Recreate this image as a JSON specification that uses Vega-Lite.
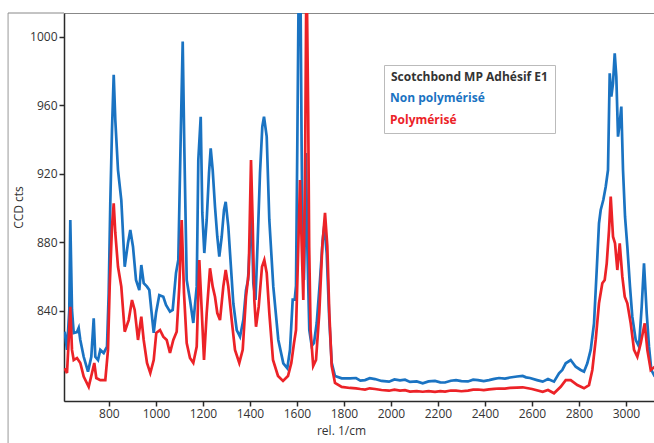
{
  "$schema": "https://vega.github.io/schema/vega-lite/v6.json",
  "width": 591,
  "height": 388,
  "autosize": {"type": "none"},
  "padding": {"left": 64, "top": 13, "right": 0, "bottom": 42},
  "background": "white",
  "view": {"stroke": "#888", "strokeWidth": 1},
  "config": {
    "font": "Open Sans",
    "axis": {
      "grid": false,
      "domainColor": "#2a2a2a",
      "domainWidth": 1.5,
      "tickColor": "#2a2a2a",
      "tickWidth": 1.5,
      "tickSize": 5,
      "labelFont": "Open Sans",
      "labelFontSize": 12,
      "labelColor": "#333333",
      "labelPadding": 2,
      "titleFont": "Open Sans",
      "titleFontSize": 12,
      "titleFontWeight": "normal",
      "titleColor": "#333333"
    }
  },
  "layer": [
    {
      "data": {"values": [{"a": 1}]},
      "mark": {"type": "rule", "clip": false, "color": "#999999", "strokeWidth": 1},
      "encoding": {
        "x": {"datum": 371, "type": "quantitative", "scale": {"domain": [609, 3123.7], "nice": false, "zero": false}},
        "y": {"datum": 1013.8, "type": "quantitative", "scale": {"domain": [787.5, 1013.8], "nice": false, "zero": false}},
        "y2": {"datum": 763}
      }
    },
    {
      "data": {"values": [{"a": 1}]},
      "mark": {"type": "rule", "clip": false, "color": "#888888", "strokeWidth": 1},
      "encoding": {
        "x": {"datum": 371, "type": "quantitative", "scale": {"domain": [609, 3123.7], "nice": false, "zero": false}},
        "x2": {"datum": 609},
        "y": {"datum": 1013.8, "type": "quantitative", "scale": {"domain": [787.5, 1013.8], "nice": false, "zero": false}}
      }
    },
    {
      "data": {
        "values": [
          {"x": 612, "y": 827.9, "s": "Non polymérisé"},
          {"x": 621.8, "y": 817.3, "s": "Non polymérisé"},
          {"x": 631.6, "y": 840.6, "s": "Non polymérisé"},
          {"x": 635.8, "y": 893.1, "s": "Non polymérisé"},
          {"x": 643, "y": 840.6, "s": "Non polymérisé"},
          {"x": 650.3, "y": 827.2, "s": "Non polymérisé"},
          {"x": 664.3, "y": 827.7, "s": "Non polymérisé"},
          {"x": 671.5, "y": 830.1, "s": "Non polymérisé"},
          {"x": 678.4, "y": 823.1, "s": "Non polymérisé"},
          {"x": 692.8, "y": 813.3, "s": "Non polymérisé"},
          {"x": 711.1, "y": 804.6, "s": "Non polymérisé"},
          {"x": 725.2, "y": 813.3, "s": "Non polymérisé"},
          {"x": 735.4, "y": 835.7, "s": "Non polymérisé"},
          {"x": 742.2, "y": 813.3, "s": "Non polymérisé"},
          {"x": 753.7, "y": 811.4, "s": "Non polymérisé"},
          {"x": 763.5, "y": 817.3, "s": "Non polymérisé"},
          {"x": 777.9, "y": 815.5, "s": "Non polymérisé"},
          {"x": 792, "y": 819.2, "s": "Non polymérisé"},
          {"x": 799.2, "y": 850.5, "s": "Non polymérisé"},
          {"x": 806, "y": 903, "s": "Non polymérisé"},
          {"x": 813.2, "y": 945.6, "s": "Non polymérisé"},
          {"x": 820.5, "y": 977.7, "s": "Non polymérisé"},
          {"x": 827.3, "y": 951.4, "s": "Non polymérisé"},
          {"x": 838.8, "y": 922.2, "s": "Non polymérisé"},
          {"x": 852.8, "y": 904.7, "s": "Non polymérisé"},
          {"x": 867.3, "y": 865.8, "s": "Non polymérisé"},
          {"x": 881.3, "y": 879.7, "s": "Non polymérisé"},
          {"x": 891.1, "y": 887.2, "s": "Non polymérisé"},
          {"x": 902.6, "y": 877.5, "s": "Non polymérisé"},
          {"x": 915.4, "y": 858.1, "s": "Non polymérisé"},
          {"x": 929.4, "y": 852.2, "s": "Non polymérisé"},
          {"x": 937.9, "y": 866.8, "s": "Non polymérisé"},
          {"x": 948.1, "y": 856.3, "s": "Non polymérisé"},
          {"x": 962.2, "y": 854.2, "s": "Non polymérisé"},
          {"x": 972, "y": 852.2, "s": "Non polymérisé"},
          {"x": 980.5, "y": 840.6, "s": "Non polymérisé"},
          {"x": 990.7, "y": 827.2, "s": "Non polymérisé"},
          {"x": 1000.5, "y": 838.8, "s": "Non polymérisé"},
          {"x": 1014.5, "y": 849.3, "s": "Non polymérisé"},
          {"x": 1031.5, "y": 848.3, "s": "Non polymérisé"},
          {"x": 1043, "y": 843.5, "s": "Non polymérisé"},
          {"x": 1060, "y": 839.6, "s": "Non polymérisé"},
          {"x": 1071.5, "y": 840.6, "s": "Non polymérisé"},
          {"x": 1085.6, "y": 862.2, "s": "Non polymérisé"},
          {"x": 1095.4, "y": 869.7, "s": "Non polymérisé"},
          {"x": 1105.6, "y": 941.7, "s": "Non polymérisé"},
          {"x": 1114.1, "y": 997.1, "s": "Non polymérisé"},
          {"x": 1120.9, "y": 935.8, "s": "Non polymérisé"},
          {"x": 1131.1, "y": 858.1, "s": "Non polymérisé"},
          {"x": 1145.1, "y": 846.4, "s": "Non polymérisé"},
          {"x": 1159.2, "y": 833, "s": "Non polymérisé"},
          {"x": 1173.7, "y": 854.2, "s": "Non polymérisé"},
          {"x": 1180.5, "y": 928.1, "s": "Non polymérisé"},
          {"x": 1190.7, "y": 953.3, "s": "Non polymérisé"},
          {"x": 1197.5, "y": 897.2, "s": "Non polymérisé"},
          {"x": 1206, "y": 873.8, "s": "Non polymérisé"},
          {"x": 1216.2, "y": 893.1, "s": "Non polymérisé"},
          {"x": 1226, "y": 920.5, "s": "Non polymérisé"},
          {"x": 1233.2, "y": 934.9, "s": "Non polymérisé"},
          {"x": 1241.7, "y": 922.2, "s": "Non polymérisé"},
          {"x": 1251.5, "y": 900.8, "s": "Non polymérisé"},
          {"x": 1261.3, "y": 883.3, "s": "Non polymérisé"},
          {"x": 1269.8, "y": 871.7, "s": "Non polymérisé"},
          {"x": 1280, "y": 883.3, "s": "Non polymérisé"},
          {"x": 1289.8, "y": 898.9, "s": "Non polymérisé"},
          {"x": 1297, "y": 903.7, "s": "Non polymérisé"},
          {"x": 1308.1, "y": 889.2, "s": "Non polymérisé"},
          {"x": 1318.3, "y": 867.8, "s": "Non polymérisé"},
          {"x": 1329.4, "y": 844.5, "s": "Non polymérisé"},
          {"x": 1343.9, "y": 828.9, "s": "Non polymérisé"},
          {"x": 1357.9, "y": 825, "s": "Non polymérisé"},
          {"x": 1372, "y": 834.7, "s": "Non polymérisé"},
          {"x": 1383.4, "y": 852.2, "s": "Non polymérisé"},
          {"x": 1392, "y": 858.1, "s": "Non polymérisé"},
          {"x": 1400.4, "y": 881.4, "s": "Non polymérisé"},
          {"x": 1407.7, "y": 895, "s": "Non polymérisé"},
          {"x": 1414.5, "y": 856.3, "s": "Non polymérisé"},
          {"x": 1423.9, "y": 846.4, "s": "Non polymérisé"},
          {"x": 1433.2, "y": 881.4, "s": "Non polymérisé"},
          {"x": 1443, "y": 920.5, "s": "Non polymérisé"},
          {"x": 1452.8, "y": 947.5, "s": "Non polymérisé"},
          {"x": 1460, "y": 953.3, "s": "Non polymérisé"},
          {"x": 1471.5, "y": 941.7, "s": "Non polymérisé"},
          {"x": 1482.6, "y": 893.1, "s": "Non polymérisé"},
          {"x": 1499.6, "y": 854.2, "s": "Non polymérisé"},
          {"x": 1520.9, "y": 823.1, "s": "Non polymérisé"},
          {"x": 1542.2, "y": 809.5, "s": "Non polymérisé"},
          {"x": 1559.2, "y": 806.6, "s": "Non polymérisé"},
          {"x": 1570.6, "y": 817.4, "s": "Non polymérisé"},
          {"x": 1582.1, "y": 846.6, "s": "Non polymérisé"},
          {"x": 1590.7, "y": 846.6, "s": "Non polymérisé"},
          {"x": 1596.2, "y": 854.6, "s": "Non polymérisé"},
          {"x": 1601.7, "y": 936.2, "s": "Non polymérisé"},
          {"x": 1608.5, "y": 1045, "s": "Non polymérisé"},
          {"x": 1614.5, "y": 1040, "s": "Non polymérisé"},
          {"x": 1620.1, "y": 936.2, "s": "Non polymérisé"},
          {"x": 1624.4, "y": 877.9, "s": "Non polymérisé"},
          {"x": 1630, "y": 858.1, "s": "Non polymérisé"},
          {"x": 1634.5, "y": 889.6, "s": "Non polymérisé"},
          {"x": 1638.7, "y": 932.2, "s": "Non polymérisé"},
          {"x": 1644.3, "y": 877.9, "s": "Non polymérisé"},
          {"x": 1652.8, "y": 828.9, "s": "Non polymérisé"},
          {"x": 1663, "y": 819.6, "s": "Non polymérisé"},
          {"x": 1672.8, "y": 821.3, "s": "Non polymérisé"},
          {"x": 1684.3, "y": 833, "s": "Non polymérisé"},
          {"x": 1698.3, "y": 858.1, "s": "Non polymérisé"},
          {"x": 1709.8, "y": 881.4, "s": "Non polymérisé"},
          {"x": 1716.6, "y": 889.6, "s": "Non polymérisé"},
          {"x": 1726.8, "y": 873.8, "s": "Non polymérisé"},
          {"x": 1737.9, "y": 834.7, "s": "Non polymérisé"},
          {"x": 1748.1, "y": 809.7, "s": "Non polymérisé"},
          {"x": 1762.1, "y": 802.1, "s": "Non polymérisé"},
          {"x": 1790.6, "y": 800.7, "s": "Non polymérisé"},
          {"x": 1826, "y": 800.7, "s": "Non polymérisé"},
          {"x": 1851.5, "y": 800.9, "s": "Non polymérisé"},
          {"x": 1870, "y": 799.4, "s": "Non polymérisé"},
          {"x": 1889.8, "y": 799.7, "s": "Non polymérisé"},
          {"x": 1910, "y": 800.8, "s": "Non polymérisé"},
          {"x": 1932.3, "y": 800.3, "s": "Non polymérisé"},
          {"x": 1960, "y": 799.2, "s": "Non polymérisé"},
          {"x": 1992, "y": 798.8, "s": "Non polymérisé"},
          {"x": 2015, "y": 800.1, "s": "Non polymérisé"},
          {"x": 2038.7, "y": 799.5, "s": "Non polymérisé"},
          {"x": 2060, "y": 799.9, "s": "Non polymérisé"},
          {"x": 2081.2, "y": 798.6, "s": "Non polymérisé"},
          {"x": 2110, "y": 798.9, "s": "Non polymérisé"},
          {"x": 2135.3, "y": 797.8, "s": "Non polymérisé"},
          {"x": 2160, "y": 798.9, "s": "Non polymérisé"},
          {"x": 2187.6, "y": 799.2, "s": "Non polymérisé"},
          {"x": 2210, "y": 798.4, "s": "Non polymérisé"},
          {"x": 2230.2, "y": 798.3, "s": "Non polymérisé"},
          {"x": 2255, "y": 799.3, "s": "Non polymérisé"},
          {"x": 2276.9, "y": 799.7, "s": "Non polymérisé"},
          {"x": 2300, "y": 799.1, "s": "Non polymérisé"},
          {"x": 2328, "y": 798.9, "s": "Non polymérisé"},
          {"x": 2350, "y": 799.9, "s": "Non polymérisé"},
          {"x": 2370.6, "y": 799.7, "s": "Non polymérisé"},
          {"x": 2395, "y": 799.1, "s": "Non polymérisé"},
          {"x": 2417.4, "y": 799.7, "s": "Non polymérisé"},
          {"x": 2440, "y": 800.4, "s": "Non polymérisé"},
          {"x": 2460, "y": 800.9, "s": "Non polymérisé"},
          {"x": 2485, "y": 800.6, "s": "Non polymérisé"},
          {"x": 2506.7, "y": 801.2, "s": "Non polymérisé"},
          {"x": 2536.5, "y": 801.8, "s": "Non polymérisé"},
          {"x": 2560.7, "y": 802.1, "s": "Non polymérisé"},
          {"x": 2575, "y": 801.3, "s": "Non polymérisé"},
          {"x": 2591.8, "y": 800.9, "s": "Non polymérisé"},
          {"x": 2621.6, "y": 799.7, "s": "Non polymérisé"},
          {"x": 2645.9, "y": 798.8, "s": "Non polymérisé"},
          {"x": 2668.4, "y": 800.3, "s": "Non polymérisé"},
          {"x": 2693.9, "y": 798.8, "s": "Non polymérisé"},
          {"x": 2715.2, "y": 803.7, "s": "Non polymérisé"},
          {"x": 2729.3, "y": 805.6, "s": "Non polymérisé"},
          {"x": 2743.8, "y": 809.5, "s": "Non polymérisé"},
          {"x": 2765, "y": 811.4, "s": "Non polymérisé"},
          {"x": 2786.3, "y": 807.5, "s": "Non polymérisé"},
          {"x": 2807.6, "y": 805.6, "s": "Non polymérisé"},
          {"x": 2821.6, "y": 804.6, "s": "Non polymérisé"},
          {"x": 2835.7, "y": 809.5, "s": "Non polymérisé"},
          {"x": 2850.1, "y": 817.3, "s": "Non polymérisé"},
          {"x": 2864.2, "y": 832.8, "s": "Non polymérisé"},
          {"x": 2875.7, "y": 863.9, "s": "Non polymérisé"},
          {"x": 2885.4, "y": 891.2, "s": "Non polymérisé"},
          {"x": 2892.7, "y": 898.9, "s": "Non polymérisé"},
          {"x": 2903.7, "y": 904.7, "s": "Non polymérisé"},
          {"x": 2914, "y": 912.5, "s": "Non polymérisé"},
          {"x": 2923.7, "y": 922.2, "s": "Non polymérisé"},
          {"x": 2931, "y": 978.6, "s": "Non polymérisé"},
          {"x": 2937.9, "y": 965, "s": "Non polymérisé"},
          {"x": 2945, "y": 972.8, "s": "Non polymérisé"},
          {"x": 2952.3, "y": 990.3, "s": "Non polymérisé"},
          {"x": 2959.1, "y": 976.7, "s": "Non polymérisé"},
          {"x": 2966.3, "y": 941.7, "s": "Non polymérisé"},
          {"x": 2973.6, "y": 949.5, "s": "Non polymérisé"},
          {"x": 2980.4, "y": 959.2, "s": "Non polymérisé"},
          {"x": 2987.6, "y": 922.2, "s": "Non polymérisé"},
          {"x": 2996.2, "y": 895, "s": "Non polymérisé"},
          {"x": 3006, "y": 877.5, "s": "Non polymérisé"},
          {"x": 3017.3, "y": 854.2, "s": "Non polymérisé"},
          {"x": 3027.1, "y": 836.7, "s": "Non polymérisé"},
          {"x": 3041.6, "y": 823.1, "s": "Non polymérisé"},
          {"x": 3055.6, "y": 819.2, "s": "Non polymérisé"},
          {"x": 3067.1, "y": 842.5, "s": "Non polymérisé"},
          {"x": 3076.9, "y": 867.8, "s": "Non polymérisé"},
          {"x": 3088.4, "y": 838.7, "s": "Non polymérisé"},
          {"x": 3098.2, "y": 819.2, "s": "Non polymérisé"},
          {"x": 3108, "y": 805.6, "s": "Non polymérisé"},
          {"x": 3123, "y": 801.7, "s": "Non polymérisé"},

          {"x": 612, "y": 806.6, "s": "Polymérisé"},
          {"x": 621.8, "y": 803.8, "s": "Polymérisé"},
          {"x": 629, "y": 823.1, "s": "Polymérisé"},
          {"x": 635.8, "y": 842.5, "s": "Polymérisé"},
          {"x": 643, "y": 817.3, "s": "Polymérisé"},
          {"x": 650.3, "y": 811.4, "s": "Polymérisé"},
          {"x": 664.3, "y": 812.6, "s": "Polymérisé"},
          {"x": 678.4, "y": 809.7, "s": "Polymérisé"},
          {"x": 692.8, "y": 801.7, "s": "Polymérisé"},
          {"x": 714.1, "y": 795.8, "s": "Polymérisé"},
          {"x": 728.1, "y": 803.8, "s": "Polymérisé"},
          {"x": 737.9, "y": 809.7, "s": "Polymérisé"},
          {"x": 746.4, "y": 800.9, "s": "Polymérisé"},
          {"x": 763.5, "y": 799.7, "s": "Polymérisé"},
          {"x": 784.7, "y": 799.7, "s": "Polymérisé"},
          {"x": 796.2, "y": 817.3, "s": "Polymérisé"},
          {"x": 803.4, "y": 854.2, "s": "Polymérisé"},
          {"x": 813.2, "y": 889.2, "s": "Polymérisé"},
          {"x": 820.5, "y": 902.8, "s": "Polymérisé"},
          {"x": 827.3, "y": 885.5, "s": "Polymérisé"},
          {"x": 838.8, "y": 865.8, "s": "Polymérisé"},
          {"x": 852.8, "y": 854.2, "s": "Polymérisé"},
          {"x": 867.3, "y": 827.9, "s": "Polymérisé"},
          {"x": 884.3, "y": 834.7, "s": "Polymérisé"},
          {"x": 898.3, "y": 846.4, "s": "Polymérisé"},
          {"x": 909.8, "y": 840.6, "s": "Polymérisé"},
          {"x": 923.9, "y": 823.1, "s": "Polymérisé"},
          {"x": 937.9, "y": 836.7, "s": "Polymérisé"},
          {"x": 948.1, "y": 823.1, "s": "Polymérisé"},
          {"x": 962.2, "y": 809.7, "s": "Polymérisé"},
          {"x": 976.2, "y": 803.8, "s": "Polymérisé"},
          {"x": 990.7, "y": 811.4, "s": "Polymérisé"},
          {"x": 1001.7, "y": 827.2, "s": "Polymérisé"},
          {"x": 1017.5, "y": 828.9, "s": "Polymérisé"},
          {"x": 1031.5, "y": 825, "s": "Polymérisé"},
          {"x": 1046, "y": 823.1, "s": "Polymérisé"},
          {"x": 1060, "y": 815.5, "s": "Polymérisé"},
          {"x": 1074.1, "y": 823.1, "s": "Polymérisé"},
          {"x": 1088.5, "y": 827.9, "s": "Polymérisé"},
          {"x": 1099.6, "y": 854.2, "s": "Polymérisé"},
          {"x": 1109.8, "y": 893.1, "s": "Polymérisé"},
          {"x": 1119.6, "y": 850.5, "s": "Polymérisé"},
          {"x": 1131.1, "y": 821.3, "s": "Polymérisé"},
          {"x": 1145.1, "y": 812.6, "s": "Polymérisé"},
          {"x": 1159.2, "y": 809.7, "s": "Polymérisé"},
          {"x": 1173.7, "y": 819.2, "s": "Polymérisé"},
          {"x": 1184.7, "y": 869.7, "s": "Polymérisé"},
          {"x": 1194.9, "y": 840.6, "s": "Polymérisé"},
          {"x": 1204.7, "y": 811.4, "s": "Polymérisé"},
          {"x": 1216.2, "y": 838.8, "s": "Polymérisé"},
          {"x": 1230.2, "y": 864.9, "s": "Polymérisé"},
          {"x": 1241.7, "y": 854.2, "s": "Polymérisé"},
          {"x": 1251.5, "y": 848.3, "s": "Polymérisé"},
          {"x": 1261.3, "y": 838.8, "s": "Polymérisé"},
          {"x": 1272.8, "y": 834.7, "s": "Polymérisé"},
          {"x": 1286.8, "y": 854.2, "s": "Polymérisé"},
          {"x": 1297, "y": 863.9, "s": "Polymérisé"},
          {"x": 1308.1, "y": 854.2, "s": "Polymérisé"},
          {"x": 1322.6, "y": 834.7, "s": "Polymérisé"},
          {"x": 1336.6, "y": 817.3, "s": "Polymérisé"},
          {"x": 1354.9, "y": 809.7, "s": "Polymérisé"},
          {"x": 1369.4, "y": 817.3, "s": "Polymérisé"},
          {"x": 1383.4, "y": 848.3, "s": "Polymérisé"},
          {"x": 1394.9, "y": 862.2, "s": "Polymérisé"},
          {"x": 1404.7, "y": 928.1, "s": "Polymérisé"},
          {"x": 1411.9, "y": 891.3, "s": "Polymérisé"},
          {"x": 1418.8, "y": 846.4, "s": "Polymérisé"},
          {"x": 1426, "y": 830.8, "s": "Polymérisé"},
          {"x": 1437.5, "y": 842.5, "s": "Polymérisé"},
          {"x": 1451.5, "y": 865.8, "s": "Polymérisé"},
          {"x": 1461.3, "y": 869.7, "s": "Polymérisé"},
          {"x": 1471.5, "y": 862.2, "s": "Polymérisé"},
          {"x": 1482.6, "y": 838.8, "s": "Polymérisé"},
          {"x": 1498.3, "y": 811.4, "s": "Polymérisé"},
          {"x": 1519.6, "y": 802.1, "s": "Polymérisé"},
          {"x": 1540.9, "y": 799.2, "s": "Polymérisé"},
          {"x": 1562.1, "y": 802.1, "s": "Polymérisé"},
          {"x": 1576.2, "y": 809.7, "s": "Polymérisé"},
          {"x": 1587.7, "y": 821.3, "s": "Polymérisé"},
          {"x": 1596.2, "y": 828.9, "s": "Polymérisé"},
          {"x": 1606, "y": 877.9, "s": "Polymérisé"},
          {"x": 1613.2, "y": 916.4, "s": "Polymérisé"},
          {"x": 1620.4, "y": 877.9, "s": "Polymérisé"},
          {"x": 1627.2, "y": 846.4, "s": "Polymérisé"},
          {"x": 1634.5, "y": 916.4, "s": "Polymérisé"},
          {"x": 1640.8, "y": 1045, "s": "Polymérisé"},
          {"x": 1648, "y": 955.5, "s": "Polymérisé"},
          {"x": 1652.2, "y": 877.9, "s": "Polymérisé"},
          {"x": 1658.2, "y": 828.9, "s": "Polymérisé"},
          {"x": 1669.3, "y": 807.9, "s": "Polymérisé"},
          {"x": 1681.3, "y": 811.4, "s": "Polymérisé"},
          {"x": 1695.3, "y": 838.8, "s": "Polymérisé"},
          {"x": 1708.1, "y": 877.9, "s": "Polymérisé"},
          {"x": 1719.6, "y": 897.2, "s": "Polymérisé"},
          {"x": 1729.4, "y": 877.9, "s": "Polymérisé"},
          {"x": 1737.9, "y": 838.8, "s": "Polymérisé"},
          {"x": 1748.1, "y": 807.9, "s": "Polymérisé"},
          {"x": 1762.1, "y": 798, "s": "Polymérisé"},
          {"x": 1790.6, "y": 795.7, "s": "Polymérisé"},
          {"x": 1826, "y": 795.1, "s": "Polymérisé"},
          {"x": 1851.5, "y": 794.9, "s": "Polymérisé"},
          {"x": 1870, "y": 794.5, "s": "Polymérisé"},
          {"x": 1889.8, "y": 794.2, "s": "Polymérisé"},
          {"x": 1910, "y": 794.9, "s": "Polymérisé"},
          {"x": 1932.3, "y": 794.5, "s": "Polymérisé"},
          {"x": 1960, "y": 793.9, "s": "Polymérisé"},
          {"x": 1992, "y": 793.5, "s": "Polymérisé"},
          {"x": 2015, "y": 794.1, "s": "Polymérisé"},
          {"x": 2038.7, "y": 793.6, "s": "Polymérisé"},
          {"x": 2060, "y": 793.8, "s": "Polymérisé"},
          {"x": 2081.2, "y": 793, "s": "Polymérisé"},
          {"x": 2110, "y": 793.3, "s": "Polymérisé"},
          {"x": 2135.3, "y": 792.9, "s": "Polymérisé"},
          {"x": 2160, "y": 793.2, "s": "Polymérisé"},
          {"x": 2187.6, "y": 792.8, "s": "Polymérisé"},
          {"x": 2210, "y": 793.2, "s": "Polymérisé"},
          {"x": 2230.2, "y": 793, "s": "Polymérisé"},
          {"x": 2255, "y": 793.6, "s": "Polymérisé"},
          {"x": 2276.9, "y": 793.5, "s": "Polymérisé"},
          {"x": 2300, "y": 793.2, "s": "Polymérisé"},
          {"x": 2328, "y": 793.6, "s": "Polymérisé"},
          {"x": 2350, "y": 794.1, "s": "Polymérisé"},
          {"x": 2370.6, "y": 794.2, "s": "Polymérisé"},
          {"x": 2395, "y": 793.8, "s": "Polymérisé"},
          {"x": 2417.4, "y": 794.3, "s": "Polymérisé"},
          {"x": 2440, "y": 794.6, "s": "Polymérisé"},
          {"x": 2460, "y": 794.8, "s": "Polymérisé"},
          {"x": 2485, "y": 794.7, "s": "Polymérisé"},
          {"x": 2506.7, "y": 795.1, "s": "Polymérisé"},
          {"x": 2535, "y": 795.3, "s": "Polymérisé"},
          {"x": 2560.7, "y": 795.5, "s": "Polymérisé"},
          {"x": 2600.3, "y": 794.5, "s": "Polymérisé"},
          {"x": 2645.9, "y": 792.9, "s": "Polymérisé"},
          {"x": 2668.4, "y": 793.9, "s": "Polymérisé"},
          {"x": 2693.9, "y": 792, "s": "Polymérisé"},
          {"x": 2722.4, "y": 795.8, "s": "Polymérisé"},
          {"x": 2743.8, "y": 799.7, "s": "Polymérisé"},
          {"x": 2765, "y": 799.7, "s": "Polymérisé"},
          {"x": 2793.2, "y": 796.8, "s": "Polymérisé"},
          {"x": 2821.6, "y": 794.9, "s": "Polymérisé"},
          {"x": 2842.9, "y": 796.8, "s": "Polymérisé"},
          {"x": 2857, "y": 805.6, "s": "Polymérisé"},
          {"x": 2871.4, "y": 823.1, "s": "Polymérisé"},
          {"x": 2885.4, "y": 844.5, "s": "Polymérisé"},
          {"x": 2899.5, "y": 856.2, "s": "Polymérisé"},
          {"x": 2909.7, "y": 858.1, "s": "Polymérisé"},
          {"x": 2918.3, "y": 867.8, "s": "Polymérisé"},
          {"x": 2928.1, "y": 887.2, "s": "Polymérisé"},
          {"x": 2935.3, "y": 906.7, "s": "Polymérisé"},
          {"x": 2945.1, "y": 883.3, "s": "Polymérisé"},
          {"x": 2953.6, "y": 879.5, "s": "Polymérisé"},
          {"x": 2963.4, "y": 863.9, "s": "Polymérisé"},
          {"x": 2973.6, "y": 879.5, "s": "Polymérisé"},
          {"x": 2984.7, "y": 860, "s": "Polymérisé"},
          {"x": 2994.9, "y": 848.3, "s": "Polymérisé"},
          {"x": 3006, "y": 844.5, "s": "Polymérisé"},
          {"x": 3020.4, "y": 832.8, "s": "Polymérisé"},
          {"x": 3034.5, "y": 817.3, "s": "Polymérisé"},
          {"x": 3048.5, "y": 813.3, "s": "Polymérisé"},
          {"x": 3063, "y": 821.2, "s": "Polymérisé"},
          {"x": 3080, "y": 832.8, "s": "Polymérisé"},
          {"x": 3091.1, "y": 817.3, "s": "Polymérisé"},
          {"x": 3105.6, "y": 805.6, "s": "Polymérisé"},
          {"x": 3123, "y": 807.5, "s": "Polymérisé"}
        ]
      },
      "mark": {"type": "line", "strokeWidth": 2.7, "clip": true, "interpolate": "linear"},
      "encoding": {
        "x": {
          "field": "x",
          "type": "quantitative",
          "scale": {"domain": [609, 3123.7], "nice": false, "zero": false},
          "axis": {
            "title": "rel. 1/cm",
            "values": [800, 1000, 1200, 1400, 1600, 1800, 2000, 2200, 2400, 2600, 2800, 3000],
            "format": "d",
            "titlePadding": 6,
            "titleX": 277
          }
        },
        "y": {
          "field": "y",
          "type": "quantitative",
          "scale": {"domain": [787.5, 1013.8], "nice": false, "zero": false},
          "axis": {
            "title": "CCD cts",
            "values": [840, 880, 920, 960, 1000],
            "format": "d",
            "titlePadding": 4
          }
        },
        "color": {
          "field": "s",
          "type": "nominal",
          "scale": {"domain": ["Non polymérisé", "Polymérisé"], "range": ["#1a73c2", "#ec2227"]},
          "legend": {
            "title": "Scotchbond MP Adhésif E1",
            "orient": "none",
            "legendX": 320,
            "legendY": 52,
            "titleFont": "Open Sans",
            "titleFontSize": 12,
            "titleFontWeight": "bold",
            "titleColor": "#333333",
            "titlePadding": 8,
            "labelFont": "Open Sans",
            "labelFontSize": 12,
            "labelFontWeight": "bold",
            "labelColor": {"expr": "datum.label == 'Polymérisé' ? '#ec2227' : '#1a73c2'"},
            "labelOffset": -13,
            "symbolSize": 0,
            "symbolOpacity": 0,
            "symbolStrokeWidth": 0,
            "rowPadding": 9.5,
            "padding": 7,
            "strokeColor": "#bbbbbb",
            "fillColor": "white"
          }
        }
      }
    }
  ]
}
